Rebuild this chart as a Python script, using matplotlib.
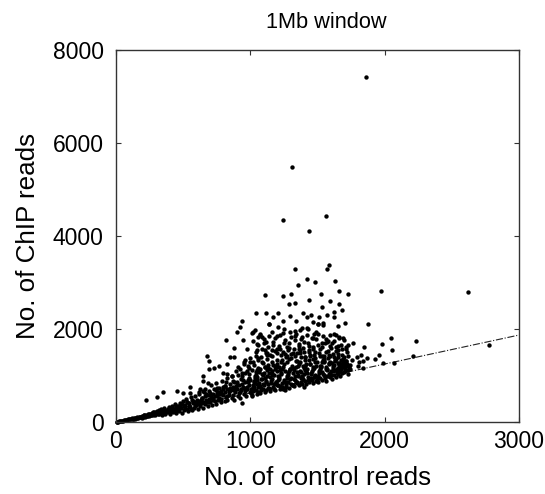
import matplotlib
matplotlib.use("Agg")
import matplotlib.pyplot as plt

plt.rcParams["font.family"] = ["Liberation Sans", "DejaVu Sans"]

# fitted line
fit_control = [0, 3000]
fit_chip = [0, 1870]

# tight band near the origin
low_control = [5, 10, 15, 22, 28, 35, 42, 50, 58, 65, 72, 80, 88, 96, 104, 112, 120, 128, 136, 144,
               150, 158, 166, 174, 182, 190, 198, 206, 214, 222, 230, 238, 246, 254, 262, 270, 278, 286, 294, 300,
               125, 142, 160, 176, 195, 210, 228, 244, 258, 275, 290, 305, 320, 335, 350]
low_chip = [4, 6, 10, 13, 18, 20, 27, 30, 36, 38, 47, 48, 58, 55, 68, 66, 80, 72, 92, 82,
            76, 105, 90, 118, 100, 132, 108, 145, 118, 155, 125, 170, 135, 180, 150, 190, 160, 205, 170, 215,
            60, 70, 82, 110, 95, 150, 122, 165, 140, 205, 150, 235, 170, 250, 185]

# dense band, one row per step in control reads
band_control = [310, 318, 325, 332, 345, 352, 360, 368, 378, 385,
                392, 400, 408, 415, 425, 432, 440, 448, 456, 462,
                470, 478, 485, 492, 500, 508, 515, 522, 530, 538,
                545, 552, 560, 568, 575, 582, 590, 598, 605, 612,
                620, 628, 635, 642, 650, 658, 665, 672, 680, 688, 695,
                702, 710, 718, 725, 732, 740, 748, 755, 762, 770, 778,
                785, 792, 800, 808, 815, 822, 830, 838, 845, 852, 860, 868,
                875, 882, 890, 898, 905, 912, 920, 928, 935, 942, 950, 958,
                965, 972, 980, 988, 995, 1002, 1010, 1018, 1025, 1032, 1040, 1048,
                1055, 1062, 1070, 1078, 1085, 1092, 1100, 1108, 1115, 1122, 1130, 1138,
                1145, 1152, 1160, 1168, 1175, 1182, 1190, 1198, 1205, 1212, 1220, 1228,
                1235, 1242, 1250, 1258, 1265, 1272, 1280, 1288, 1295, 1302, 1310, 1318,
                1325, 1332, 1340, 1348, 1355, 1362, 1370, 1378, 1385, 1392, 1400, 1408,
                1415, 1422, 1430, 1438, 1445, 1452, 1460, 1468, 1475, 1482, 1490, 1498,
                1505, 1512, 1520, 1528, 1535, 1542, 1550, 1558, 1565, 1572, 1580, 1588,
                1595, 1602, 1610, 1618, 1625, 1632, 1640, 1648, 1655, 1662, 1670, 1678,
                1685, 1695, 1705, 1715, 1725, 1735, 650, 700, 755, 810, 870, 930, 990, 1050,
                1110, 1170, 1230, 1290, 1350, 1410, 1470, 1530, 1590, 1650, 1700]
band_chip = [165, 250, 190, 280, 155, 225, 300, 180, 265, 205,
             320, 170, 245, 350, 210, 290, 380, 190, 265, 340,
             230, 410, 300, 200, 450, 260, 360, 500, 290, 230,
             400, 330, 530, 260, 450, 300, 550, 370, 480, 280,
             600, 350, 430, 520, 310, 640, 390, 480, 570, 340, 660,
             430, 520, 370, 610, 700, 460, 390, 560, 650, 740, 420,
             500, 600, 700, 450, 780, 540, 470, 640, 730, 820, 520, 590,
             480, 680, 770, 860, 560, 630, 510, 720, 810, 900, 600, 670,
             550, 760, 850, 950, 640, 710, 560, 800, 890, 1000, 680, 600,
             750, 840, 620, 930, 1040, 700, 790, 640, 880, 980, 730, 1060,
             660, 830, 920, 760, 1020, 690, 870, 1100, 790, 960, 720, 1040,
             830, 710, 910, 1100, 760, 1000, 860, 740, 1130, 950, 800, 1050,
             770, 900, 1180, 840, 1000, 790, 1090, 940, 820, 1200, 1040, 880,
             810, 1130, 970, 850, 1240, 1060, 900, 830, 1170, 1000, 880, 1280,
             860, 1090, 950, 1210, 900, 1030, 1300, 940, 880, 1140, 1000, 1260,
             960, 1090, 920, 1200, 1020, 1340, 970, 1130, 1040, 1270, 1000, 1160,
             1060, 1230, 1100, 1320, 1040, 1180, 660, 620, 730, 780, 880, 930, 1030, 1120,
             1180, 1230, 1280, 1350, 1310, 1390, 1360, 1410, 1430, 1390, 1400]

# filling between the band rows
fill_control = [305, 322, 338, 355, 372, 390, 405, 420, 435, 450, 465, 480, 495, 510, 525, 540, 555, 570, 585, 600,
                380, 412, 444, 476, 508, 532, 564, 592, 615, 630, 645, 660, 675, 690, 705, 720, 735, 750, 765, 780,
                795, 810, 825, 840, 855, 870, 885, 900, 915, 930, 945, 960, 975, 990, 612, 638, 668, 694, 722, 746,
                772, 798, 826, 848, 878, 904, 926, 952, 984, 640, 700, 760, 820, 880, 940, 1000, 1005, 1020, 1035, 1050,
                1012, 1028, 1044, 1058, 1074, 1088, 1104, 1118, 1134, 1148, 1164, 1178, 1194, 1208, 1224, 1238,
                1016, 1030, 1046, 1064, 1080, 1096, 1112, 1126, 1142, 1156, 1172, 1186, 1202, 1216, 1232, 1246,
                1020, 1036, 1052, 1068, 1082, 1098, 1114, 1132, 1146, 1162, 1176, 1192, 1206, 1222, 1236, 1252,
                1254, 1268, 1284, 1298, 1314, 1328, 1344, 1358, 1374, 1388, 1404, 1418, 1434, 1448, 1464, 1478,
                1258, 1274, 1288, 1304, 1320, 1334, 1350, 1364, 1380, 1394, 1410, 1424, 1440, 1454, 1470, 1484,
                1262, 1278, 1294, 1308, 1324, 1340, 1354, 1370, 1384, 1400, 1414, 1430, 1444, 1460, 1474, 1490,
                1494, 1508, 1524, 1538, 1554, 1568, 1584, 1598, 1614, 1628, 1644, 1658, 1674, 1688, 1702, 1718,
                1500, 1516, 1530, 1546, 1560, 1576, 1592, 1606, 1620, 1636, 1652, 1666, 1680, 1696, 1710, 1730,
                1504, 1520, 1534, 1550, 1566, 1582, 1596, 1612, 1626, 1642, 1656, 1672, 1686, 1700, 1722, 1745]
fill_chip = [200, 235, 190, 260, 225, 280, 215, 320, 250, 350, 280, 320, 380, 310, 420, 350, 290, 400, 340, 450,
             240, 275, 310, 365, 340, 425, 470, 435, 390, 480, 440, 560, 420, 500, 590, 480, 560, 620, 520, 670,
             580, 640, 720, 590, 680, 760, 640, 720, 790, 680, 750, 860, 700, 790, 455, 510, 605, 430, 525, 680,
             610, 760, 555, 680, 850, 800, 640, 730, 900, 410, 590, 470, 860, 710, 980, 900, 620, 730, 830, 960,
             710, 870, 1010, 650, 780, 920, 1050, 690, 820, 960, 1090, 720, 850, 1000, 1120, 760,
             590, 760, 900, 1080, 680, 810, 940, 1120, 740, 880, 1010, 1150, 800, 920, 1060, 1180,
             660, 950, 820, 1110, 740, 1020, 860, 1170, 700, 1040, 820, 1190, 900, 770, 1130, 860,
             730, 870, 1010, 1150, 800, 930, 1070, 1210, 850, 980, 1120, 1250, 910, 1040, 1180, 1290,
             690, 950, 1090, 820, 1170, 1000, 860, 1250, 1080, 930, 1210, 1050, 1330, 950, 1130, 1020,
             800, 1060, 920, 1200, 1120, 860, 1020, 1280, 950, 1170, 1090, 900, 1250, 1100, 970, 1200,
             910, 1050, 1180, 1340, 980, 1110, 1250, 1020, 1160, 1310, 1080, 1220, 1150, 1290, 1130, 1240,
             940, 1130, 1280, 1010, 1190, 1370, 1060, 1260, 1120, 1350, 1170, 1090, 1240, 1180, 1320, 1110,
             1000, 1210, 1080, 1320, 1150, 1040, 1290, 1100, 1220, 1070, 1270, 1340, 1200, 1300, 1210, 1150]

# upper edge of the band and the patchy area over it
upper_control = [620, 660, 705, 745, 790, 830, 865, 905, 940, 975, 1010, 1045, 1075, 1110, 1145, 1180, 1215, 1250,
                 830, 860, 895, 925, 960, 990, 1025, 1060, 1095, 1130, 1165, 1200, 1235, 1270, 1305, 1340, 1375, 1410,
                 1445, 1480, 1515, 1550, 1585, 1620, 1655, 1690, 1725, 1755,
                 910, 950, 985, 1020, 1055, 1090, 1125, 1160, 1195, 1230, 1265, 1300, 1335, 1370, 1405, 1440, 1475,
                 1510, 1545, 1580, 1615, 1650, 1685, 1720,
                 960, 1000, 1040, 1080, 1115, 1150, 1185, 1220, 1255, 1290, 1325, 1360, 1395, 1430, 1465, 1500, 1535,
                 1570, 1605, 1640, 1675, 1710,
                 1060, 1100, 1140, 1180, 1220, 1260, 1300, 1340, 1380, 1420, 1460, 1500, 1540, 1580, 1620, 1660, 1700]
upper_chip = [650, 705, 790, 830, 880, 940, 985, 1020, 1045, 1100, 1120, 1080, 1150, 1190, 1130, 1210, 1180, 1250,
              1040, 1000, 1090, 1130, 1060, 1170, 1220, 1160, 1270, 1230, 1300, 1250, 1330, 1290, 1370, 1310, 1390, 1340,
              1410, 1370, 1420, 1360, 1440, 1390, 1460, 1350, 1420, 1330,
              1180, 1240, 1210, 1290, 1340, 1300, 1360, 1410, 1330, 1440, 1390, 1470, 1420, 1480, 1400, 1510, 1440,
              1480, 1420, 1530, 1470, 1550, 1450, 1500,
              1330, 1380, 1430, 1400, 1490, 1450, 1530, 1580, 1470, 1690, 1560, 1640, 1600, 1700, 1580, 1660, 1620,
              1730, 1690, 1610, 1650, 1580,
              1830, 1790, 1860, 1800, 1880, 1760, 1820, 1900, 1780, 1870, 1800, 1890, 1850, 1740, 1900, 1820, 1760]

# looser points above the band
mid_control = [1020, 1060, 1100, 1130, 1170, 1210, 1250, 1290, 1330, 1360, 1400, 1440, 1490, 1530, 1560, 1590, 1620, 1650,
               1040, 1085, 1125, 1160, 1200, 1240, 1280, 1320, 1360, 1400, 1440, 1480, 1520, 1560, 1600, 1640, 1680, 1710,
               678, 690, 690, 732, 765, 824, 849, 879, 953, 998, 1060, 1122, 1196, 1271, 1345, 1444,
               645, 794, 551, 457, 352, 303, 223, 650, 688, 551, 501, 625, 1400, 936,
               819, 943, 1047, 1117, 1196, 1246, 1333, 1382, 1469, 881, 978, 1047, 1109, 1172, 1271, 1370, 1469, 1556,
               938, 1142, 923, 898, 1010, 1035, 1072, 1209, 1159, 1296, 1382, 1432, 1506, 1544, 1090, 1330, 1250, 1475]
mid_chip = [1750, 1650, 1700, 1620, 1720, 1640, 1700, 1600, 1760, 1680, 1720, 1640, 1780, 1690, 1780, 1640, 1740, 1640,
            1500, 1560, 1480, 1540, 1560, 1500, 1540, 1480, 1560, 1500, 1550, 1500, 1560, 1510, 1600, 1520, 1560, 1620,
            1412, 1319, 1133, 1154, 1205, 1248, 1391, 1391, 1298, 1298, 1369, 1441, 1477, 1420, 1477, 1441,
            997, 1047, 760, 674, 638, 545, 481, 882, 832, 617, 617, 703, 746, 402,
            1757, 1764, 1678, 1728, 1850, 1907, 1850, 1821, 1800, 1592, 1577, 1549, 1549, 1656, 1620, 1549, 1620, 1692,
            2165, 2108, 2050, 1936, 1907, 1979, 1893, 2036, 1943, 1943, 2015, 1993, 2108, 2086, 1830, 1960, 2000, 1890]

# isolated points at the top and on the right
high_control = [1864, 1311, 1564, 1241, 1440, 1589, 1574, 1336, 1425, 1482, 1631, 1355, 1663, 1971, 2621, 1730, 1524,
                1301, 1241, 1107, 1440, 1594, 1336, 1286, 1661, 1534, 1686, 1043, 1120, 1204, 1167, 1296, 1395, 1420,
                1455, 1514, 1574, 1623, 1623, 1708, 1879, 1139, 1241, 1340, 1470, 1504, 1544, 1656, 1023, 1072, 1370,
                1420, 1489, 1594, 1638, 1688, 1663, 2045, 1978, 2234, 2773, 2055, 1849, 1767, 1730, 1961, 2209, 1929,
                1867, 1822, 1792, 1837, 1812, 1805, 1837, 1986, 2068, 1698, 1743, 1693]
high_chip = [7427, 5484, 4437, 4337, 4100, 3377, 3291, 3283, 3083, 3011, 3040, 2939, 2825, 2810, 2789, 2753, 2753,
             2746, 2703, 2731, 2617, 2602, 2567, 2538, 2531, 2481, 2409, 2344, 2344, 2344, 2258, 2280, 2352, 2265,
             2301, 2265, 2301, 2366, 2265, 2137, 2115, 2108, 2172, 2172, 2144, 2108, 2136, 2058, 1943, 1878, 1979,
             2015, 1943, 1871, 1871, 1800, 1800, 1814, 1685, 1749, 1656, 1549, 1620, 1699, 1656, 1434, 1420, 1362,
             1384, 1434, 1405, 1312, 1298, 1212, 1169, 1262, 1262, 1069, 1226, 1284]

x_ticks = [0, 1000, 2000, 3000]
y_ticks = [0, 2000, 4000, 6000, 8000]


def make_plot():
    fig = plt.figure(figsize=(5.45, 4.94), dpi=100)
    ax = fig.add_axes([116 / 545, 1 - 422 / 494, 403 / 545, 372 / 494])

    ax.plot(fit_control, fit_chip, color="#222222", lw=0.8, ls="-.", zorder=1)
    for xs, ys in [(low_control, low_chip), (band_control, band_chip), (fill_control, fill_chip),
                   (upper_control, upper_chip), (mid_control, mid_chip), (high_control, high_chip)]:
        ax.scatter(xs, ys, s=10, color="black", linewidths=0, zorder=2, clip_on=False)

    ax.set_xlim(0, 3000)
    ax.set_ylim(0, 8000)
    ax.set_xticks(x_ticks)
    ax.set_yticks(y_ticks)
    ax.tick_params(direction="in", top=True, right=True, length=3.5, width=0.8,
                   labelsize=16.5, color="#333333")
    ax.tick_params(axis="x", pad=6)
    ax.tick_params(axis="y", pad=9)
    for spine in ax.spines.values():
        spine.set_linewidth(1.0)
        spine.set_color("#333333")

    ax.set_xlabel("No. of control reads", fontsize=18.7, labelpad=9)
    ax.set_ylabel("No. of ChIP reads", fontsize=18.7, labelpad=9)
    fig.text(326 / 545, 1 - 23 / 494, "1Mb window", fontsize=15.7, ha="center", va="center")

    fig.savefig("out.png", dpi=100)


if __name__ == "__main__":
    make_plot()
